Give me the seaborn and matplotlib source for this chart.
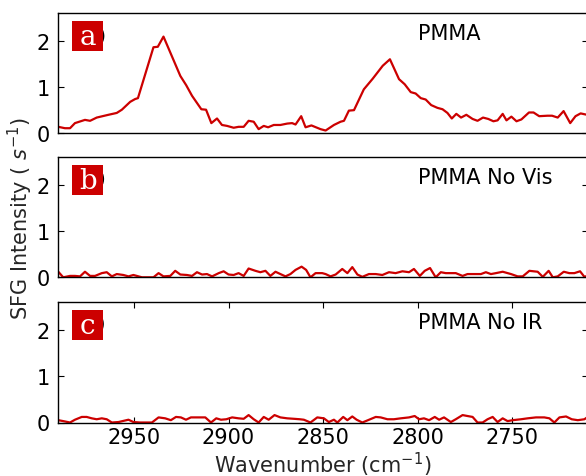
import matplotlib
matplotlib.use("Agg")
import matplotlib.pyplot as plt
from matplotlib.patches import Rectangle
import numpy as np
import pandas as pd
import seaborn as sns

# PMMA spectrum (wavenumber in cm^-1, SFG intensity in s^-1)
wn_pmma = [2990.0, 2986.5, 2983.8, 2981.2, 2975.9, 2973.2, 2969.7, 2963.5, 2959.1, 2956.4,
           2952.0, 2949.4, 2947.9, 2939.7, 2937.4, 2934.4, 2925.5, 2922.4, 2919.3, 2914.4,
           2911.9, 2909.1, 2906.1, 2903.5, 2900.8, 2897.3, 2894.7, 2892.0, 2889.4, 2886.7,
           2884.1, 2881.4, 2879.1, 2876.1, 2872.6, 2869.0, 2866.4, 2864.6, 2861.6, 2859.3,
           2856.2, 2851.4, 2848.7, 2844.3, 2840.8, 2839.0, 2836.4, 2833.7, 2828.5, 2823.8,
           2818.5, 2814.7, 2809.9, 2806.9, 2803.7, 2801.1, 2798.4, 2795.8, 2792.9, 2789.6,
           2786.9, 2784.3, 2782.0, 2779.6, 2777.1, 2774.3, 2771.0, 2768.4, 2765.5, 2762.7,
           2760.0, 2757.8, 2755.1, 2753.1, 2750.5, 2747.8, 2745.2, 2741.2, 2738.8, 2735.8,
           2731.4, 2729.0, 2726.0, 2722.9, 2719.4, 2716.6, 2713.9, 2710.5, 2708.0]
int_pmma = [0.14, 0.11, 0.11, 0.22, 0.29, 0.27, 0.34, 0.40, 0.44, 0.51,
            0.68, 0.74, 0.76, 1.86, 1.87, 2.09, 1.24, 1.04, 0.81, 0.52,
            0.51, 0.22, 0.32, 0.18, 0.16, 0.12, 0.14, 0.14, 0.27, 0.25,
            0.09, 0.16, 0.13, 0.18, 0.18, 0.21, 0.22, 0.19, 0.37, 0.13,
            0.17, 0.09, 0.06, 0.18, 0.25, 0.27, 0.49, 0.50, 0.95, 1.18,
            1.46, 1.60, 1.17, 1.06, 0.89, 0.86, 0.76, 0.73, 0.61, 0.55,
            0.52, 0.44, 0.32, 0.42, 0.34, 0.40, 0.31, 0.27, 0.34, 0.31,
            0.26, 0.28, 0.42, 0.28, 0.36, 0.26, 0.30, 0.45, 0.45, 0.37,
            0.38, 0.38, 0.34, 0.48, 0.22, 0.37, 0.43, 0.40, 0.40]

# PMMA without visible beam
wn_novis = [2990.0, 2987.4, 2983.8, 2981.2, 2978.5, 2975.9, 2973.2, 2970.6, 2967.0, 2964.4,
            2961.7, 2959.1, 2955.6, 2952.9, 2950.3, 2947.6, 2945.8, 2939.7, 2937.0, 2934.4,
            2930.8, 2928.2, 2925.5, 2922.0, 2919.3, 2916.7, 2914.0, 2911.4, 2908.7, 2905.2,
            2902.6, 2900.0, 2897.3, 2894.7, 2892.0, 2889.4, 2885.8, 2883.2, 2880.5, 2877.9,
            2875.2, 2872.6, 2869.9, 2867.3, 2864.6, 2861.4, 2859.0, 2856.7, 2854.0, 2850.5,
            2848.7, 2846.1, 2843.4, 2839.9, 2837.2, 2834.6, 2831.9, 2829.3, 2825.8, 2822.2,
            2818.7, 2815.2, 2811.7, 2808.1, 2804.6, 2802.0, 2798.9, 2796.3, 2793.5, 2790.5,
            2787.8, 2785.2, 2779.9, 2776.3, 2773.7, 2766.6, 2764.0, 2761.3, 2758.7, 2755.1,
            2750.7, 2747.2, 2744.5, 2741.0, 2736.6, 2733.9, 2730.8, 2728.6, 2726.0, 2722.8,
            2719.9, 2717.2, 2714.2, 2711.9, 2710.5, 2708.0]
int_novis = [0.12, 0.00, 0.03, 0.03, 0.02, 0.12, 0.03, 0.03, 0.09, 0.11,
             0.02, 0.07, 0.05, 0.02, 0.05, 0.02, 0.00, 0.00, 0.09, 0.02,
             0.03, 0.14, 0.06, 0.05, 0.03, 0.11, 0.06, 0.07, 0.02, 0.09,
             0.13, 0.06, 0.05, 0.09, 0.03, 0.19, 0.14, 0.11, 0.14, 0.03,
             0.12, 0.07, 0.02, 0.07, 0.16, 0.23, 0.16, 0.00, 0.09, 0.09,
             0.07, 0.02, 0.06, 0.18, 0.09, 0.22, 0.06, 0.01, 0.07, 0.07,
             0.05, 0.11, 0.09, 0.13, 0.11, 0.18, 0.03, 0.14, 0.20, 0.00,
             0.11, 0.09, 0.09, 0.03, 0.07, 0.07, 0.11, 0.07, 0.09, 0.12,
             0.07, 0.02, 0.02, 0.14, 0.12, 0.01, 0.14, 0.00, 0.02, 0.12,
             0.09, 0.09, 0.13, 0.01, 0.03, 0.05]

# PMMA without infrared beam
wn_noir = [2990.0, 2987.4, 2983.8, 2981.2, 2977.6, 2975.0, 2972.3, 2969.7, 2967.0, 2964.4,
           2961.7, 2958.2, 2952.9, 2950.3, 2946.7, 2940.5, 2937.0, 2933.5, 2930.5, 2927.8,
           2925.2, 2922.5, 2919.9, 2916.7, 2912.3, 2909.3, 2906.5, 2904.0, 2901.2, 2898.1,
           2894.7, 2892.0, 2889.4, 2886.7, 2884.1, 2881.4, 2878.8, 2875.7, 2872.6, 2869.0,
           2865.5, 2862.3, 2860.2, 2856.7, 2853.1, 2849.6, 2847.0, 2844.3, 2842.5, 2839.4,
           2837.2, 2834.6, 2832.3, 2829.3, 2826.3, 2822.2, 2819.6, 2816.0, 2812.6, 2809.0,
           2804.6, 2801.6, 2799.3, 2796.7, 2794.0, 2791.0, 2788.7, 2786.1, 2782.5, 2779.9,
           2776.3, 2773.7, 2771.0, 2768.4, 2765.7, 2763.1, 2760.4, 2757.8, 2755.1, 2752.5,
           2749.8, 2745.4, 2741.9, 2737.5, 2733.1, 2730.4, 2727.8, 2725.1, 2721.6, 2718.6,
           2715.4, 2711.9, 2710.5, 2708.0]
int_noir = [0.05, 0.03, 0.00, 0.06, 0.12, 0.12, 0.09, 0.07, 0.09, 0.07,
            0.00, 0.01, 0.06, 0.01, 0.00, 0.00, 0.11, 0.09, 0.05, 0.12,
            0.11, 0.06, 0.11, 0.11, 0.11, 0.00, 0.09, 0.06, 0.07, 0.11,
            0.09, 0.08, 0.16, 0.07, 0.00, 0.12, 0.06, 0.16, 0.11, 0.09,
            0.08, 0.07, 0.06, 0.00, 0.11, 0.09, 0.01, 0.06, 0.00, 0.12,
            0.05, 0.13, 0.06, 0.00, 0.05, 0.12, 0.11, 0.07, 0.07, 0.09,
            0.11, 0.14, 0.07, 0.09, 0.05, 0.12, 0.06, 0.11, 0.01, 0.07,
            0.16, 0.14, 0.12, 0.00, 0.00, 0.07, 0.12, 0.01, 0.09, 0.03,
            0.05, 0.07, 0.09, 0.11, 0.11, 0.09, 0.00, 0.11, 0.13, 0.07,
            0.05, 0.07, 0.11, 0.11]

panel_letters = ["a", "b", "c"]
panel_titles = ["PMMA", "PMMA No Vis", "PMMA No IR"]
y_ticks = [0, 1, 2]
x_ticks = [2950, 2900, 2850, 2800, 2750]

sns.set_theme(style="white")
plt.rcParams["font.family"] = ["DejaVu Sans"]
plt.rcParams["mathtext.fontset"] = "dejavusans"

RED = "#cc0000"
W, H = 586, 477
fig = plt.figure(figsize=(W / 100, H / 100), dpi=100)

# axes boxes in pixels: (top, bottom)
left_px, right_px = 58.3, 588.0
rows_px = [(14.0, 134.3), (158.0, 278.3), (303.0, 423.5)]

series = [(wn_pmma, int_pmma), (wn_novis, int_novis), (wn_noir, int_noir)]
axes = []
for i, ((top, bot), (wn, inten)) in enumerate(zip(rows_px, series)):
    ax = fig.add_axes([left_px / W, 1 - bot / H, (right_px - left_px) / W, (bot - top) / H])
    axes.append(ax)
    df = pd.DataFrame({"wavenumber": wn, "intensity": inten})
    sns.lineplot(data=df, x="wavenumber", y="intensity", ax=ax, color=RED,
                 linewidth=1.6, estimator=None, sort=False)
    ax.set_xlim(2990, 2710)
    ax.set_ylim(0, 2.6)
    ax.set_yticks(y_ticks)
    ax.set_xlabel("")
    ax.set_ylabel("")
    for s in ax.spines.values():
        s.set_color("black")
        s.set_linewidth(1.0)
        s.set_visible(True)
    ax.tick_params(axis="y", direction="in", left=True, right=True, length=4,
                   width=0.8, labelsize=15, pad=6, colors="black")
    if i < 2:
        ax.set_xticks([])
    else:
        ax.set_xticks(x_ticks)
        ax.tick_params(axis="x", direction="in", top=True, bottom=True, length=4,
                       width=0.8, labelsize=15, pad=3.5, colors="black")

    ax.text(0.679, 0.83, panel_titles[i], transform=ax.transAxes, fontsize=15,
            ha="left", va="center", color="black")

    h = bot - top
    wd = right_px - left_px
    ax.text((106.0 - left_px) / wd, (bot - (top + 22)) / h, panel_letters[i] + ")",
            transform=ax.transAxes, fontsize=14, ha="right", va="center",
            color="black", fontweight="bold", zorder=4)
    ax.add_patch(Rectangle(((72.3 - left_px) / wd, (bot - (top + 38.3)) / h),
                           31 / wd, 30 / h, transform=ax.transAxes,
                           facecolor=RED, edgecolor="none", zorder=5, clip_on=False))
    ax.text((87.8 - left_px) / wd, (bot - (top + 23.3)) / h, panel_letters[i],
            transform=ax.transAxes, fontsize=20, family="DejaVu Serif",
            ha="center", va="center", color="white", zorder=6)

axes[2].set_xlabel("Wavenumber (cm$^{-1}$)", fontsize=15, labelpad=2)
fig.text(20 / W, 1 - 219 / H, "SFG Intensity ( $s^{-1}$)", rotation=90,
         fontsize=15, ha="center", va="center")

fig.savefig("out.png", dpi=100)
